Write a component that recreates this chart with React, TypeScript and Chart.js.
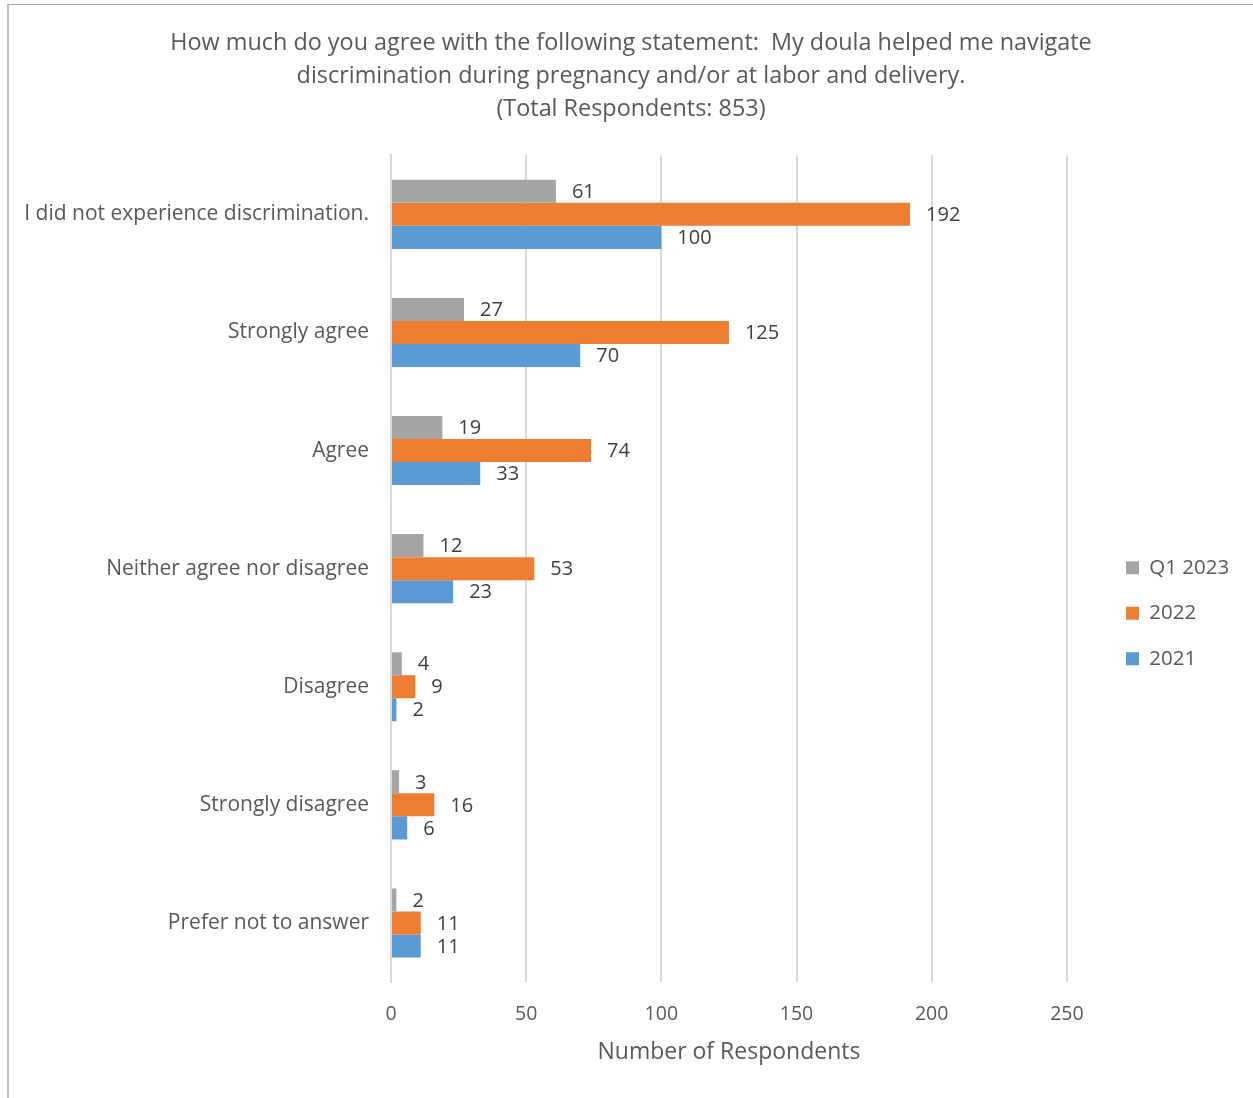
import React, { useEffect, useRef } from "react";
import { Chart, registerables } from "chart.js";

Chart.register(...registerables);

const categories = [
  "I did not experience discrimination.",
  "Strongly agree",
  "Agree",
  "Neither agree nor disagree",
  "Disagree",
  "Strongly disagree",
  "Prefer not to answer",
];
const seriesNames = ["Q1 2023", "2022", "2021"];
const q12023 = [61, 27, 19, 12, 4, 3, 2];
const y2022 = [192, 125, 74, 53, 9, 16, 11];
const y2021 = [100, 70, 33, 23, 2, 6, 11];
const xTicks = [0, 50, 100, 150, 200, 250];
const titleLines = [
  "How much do you agree with the following statement:  My doula helped me navigate",
  "discrimination during pregnancy and/or at labor and delivery.",
  "(Total Respondents: 853)",
];
const xTitle = "Number of Respondents";

const FONT = "'Open Sans', Lato, sans-serif";

const labelPlugin = {
  id: "valueLabels",
  afterDatasetsDraw(chart: any) {
    const ctx = chart.ctx;
    ctx.save();
    ctx.font = `20px ${FONT}`;
    ctx.fillStyle = "#404040";
    ctx.textAlign = "left";
    ctx.textBaseline = "middle";
    chart.data.datasets.forEach((ds: any, di: number) => {
      const meta = chart.getDatasetMeta(di);
      meta.data.forEach((el: any, i: number) => {
        ctx.fillText(String(ds.data[i]), el.x + 16, el.y + 1);
      });
    });
    ctx.restore();
  },
};

// nudges the legend column and the title block as in the original
const boxShift = {
  id: "boxShift",
  afterLayout(chart: any) {
    const lg = chart.legend;
    if (lg) {
      const d = 1101 - lg.left;
      lg.left += d;
      lg.right += d;
    }
    const tb = chart.titleBlock;
    if (tb) {
      tb.left += 41;
    }
  },
};

export default function App() {
  const ref = useRef<HTMLCanvasElement>(null);
  useEffect(() => {
    if (!ref.current) return;
    const chart = new Chart(ref.current, {
      type: "bar",
      data: {
        labels: categories,
        datasets: [
          { label: seriesNames[0], data: q12023, backgroundColor: "#a5a5a5" },
          { label: seriesNames[1], data: y2022, backgroundColor: "#ed7d31" },
          { label: seriesNames[2], data: y2021, backgroundColor: "#5b9bd5" },
        ],
      },
      options: {
        indexAxis: "y",
        responsive: false,
        animation: false,
        datasets: { bar: { categoryPercentage: 0.585, barPercentage: 1.0 } },
        layout: { padding: { left: 16, right: 48, top: 0, bottom: 32 } },
        plugins: {
          tooltip: { enabled: false },
          title: {
            display: true,
            text: titleLines,
            color: "#595959",
            font: { family: FONT, size: 23.4, weight: "normal", lineHeight: 1.4 },
            padding: { top: 27, bottom: 30 },
          },
          legend: {
            position: "right",
            title: { display: true, text: "", font: { size: 12 }, padding: { top: 146, bottom: 0 } },
            labels: {
              boxWidth: 13,
              boxHeight: 13,
              padding: 25,
              color: "#595959",
              font: { family: FONT, size: 20.5 },
            },
          },
        },
        scales: {
          x: {
            min: 0,
            max: 250,
            afterBuildTicks: (scale: any) => {
              scale.ticks = xTicks.map((v) => ({ value: v }));
            },
            afterFit: (scale: any) => {
              scale.height = 84;
            },
            grid: { color: "#d9d9d9", lineWidth: 2, drawTicks: false },
            border: { display: false },
            ticks: { color: "#595959", font: { family: FONT, size: 19.5 }, padding: 21 },
            title: {
              display: true,
              text: xTitle,
              color: "#595959",
              font: { family: FONT, size: 23 },
              padding: { top: 10, bottom: 0 },
            },
          },
          y: {
            grid: { display: false, drawTicks: false },
            border: { display: true, color: "#d9d9d9", width: 2 },
            ticks: { color: "#595959", font: { family: FONT, size: 21 }, padding: 22 },
            afterFit: (scale: any) => {
              scale.width = 391 - 16;
            },
          },
        },
      },
      plugins: [labelPlugin, boxShift],
    });
    return () => chart.destroy();
  }, []);
  return (
    <div style={{ position: "absolute", left: 0, top: 0, width: 1253, height: 1098, overflow: "hidden", background: "#fff" }}>
      <div
        style={{
          position: "absolute",
          left: 7,
          top: 4,
          width: 1300,
          height: 1200,
          borderLeft: "2px solid #bfbfbf",
          borderTop: "1px solid #a6a6a6",
        }}
      />
      <canvas ref={ref} width={1253} height={1098} style={{ position: "absolute", left: 0, top: 0 }} />
    </div>
  );
}
